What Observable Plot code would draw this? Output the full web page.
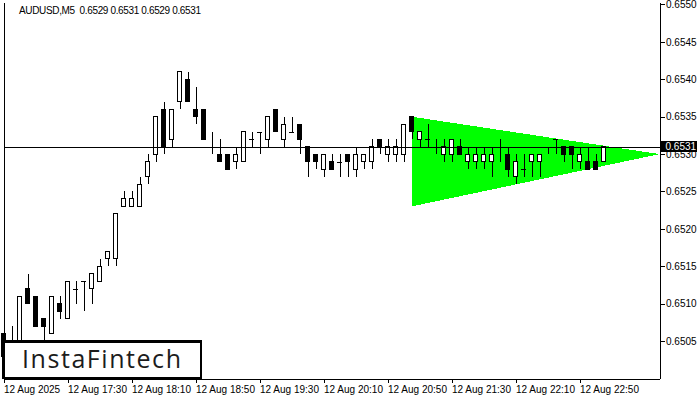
<!DOCTYPE html>
<html>
<head>
<meta charset="utf-8">
<script src="https://cdn.jsdelivr.net/npm/d3@7"></script>
<script src="https://cdn.jsdelivr.net/npm/@observablehq/plot@0.6"></script>
<style>
  html, body { margin: 0; padding: 0; background: #fff; }
  #chart svg { display: block; }
</style>
</head>
<body>
<div id="chart"></div>
<script>
// AUDUSD 5-minute candles, 12 Aug 2025 (one entry per bar, oldest first)
const symbol = "AUDUSD";
const period = "M5";
const open = [
  0.6506, 0.6503, 0.6504, 0.6512, 0.6511, 0.6508, 0.6506, 0.6510, 0.6508, 0.6512,
  0.6513, 0.6512, 0.6513, 0.6516, 0.6516, 0.6523, 0.6523, 0.6523, 0.6527, 0.6530,
  0.6536, 0.6532, 0.6537, 0.6540, 0.6536, 0.6536, 0.6531, 0.6530, 0.6530, 0.6529,
  0.6529, 0.6532, 0.6533, 0.6532, 0.6536, 0.6532, 0.6533, 0.6534, 0.6531, 0.6530,
  0.6528, 0.6529, 0.6529, 0.6530, 0.6528, 0.6529, 0.6529, 0.6532, 0.6530, 0.6530,
  0.6530, 0.6535, 0.6532, 0.6532, 0.6531, 0.6530, 0.6530, 0.6531, 0.6529, 0.6529,
  0.6529, 0.6529, 0.6531, 0.6530, 0.6527, 0.6528, 0.6529, 0.6529, 0.6531, 0.6532,
  0.6531, 0.6531, 0.6529, 0.6529, 0.6529, 0.6529
];
const high = [
  0.6506, 0.6507, 0.6511, 0.6514, 0.6511, 0.6508, 0.6511, 0.6511, 0.6513, 0.6513,
  0.6513, 0.6514, 0.6516, 0.6517, 0.6522, 0.6525, 0.6525, 0.6527, 0.6530, 0.6535,
  0.6537, 0.6536, 0.6541, 0.6541, 0.6539, 0.6536, 0.6533, 0.6532, 0.6530, 0.6531,
  0.6533, 0.6533, 0.6533, 0.6535, 0.6536, 0.6535, 0.6535, 0.6534, 0.6531, 0.6530,
  0.6530, 0.6530, 0.6530, 0.6530, 0.6531, 0.6530, 0.6532, 0.6532, 0.6532, 0.6532,
  0.6534, 0.6535, 0.6533, 0.6534, 0.6532, 0.6532, 0.6532, 0.6532, 0.6531, 0.6531,
  0.6531, 0.6531, 0.6532, 0.6531, 0.6530, 0.6530, 0.6530, 0.6530, 0.6531, 0.6532,
  0.6531, 0.6531, 0.6531, 0.6531, 0.6530, 0.6531
];
const low = [
  0.6502, 0.6502, 0.6503, 0.6510, 0.6507, 0.6504, 0.6506, 0.6508, 0.6508, 0.6510,
  0.6509, 0.6510, 0.6513, 0.6515, 0.6515, 0.6523, 0.6523, 0.6523, 0.6526, 0.6529,
  0.6530, 0.6531, 0.6536, 0.6537, 0.6534, 0.6532, 0.6530, 0.6529, 0.6528, 0.6528,
  0.6529, 0.6531, 0.6530, 0.6531, 0.6533, 0.6531, 0.6533, 0.6530, 0.6527, 0.6528,
  0.6527, 0.6528, 0.6527, 0.6527, 0.6527, 0.6528, 0.6528, 0.6530, 0.6529, 0.6529,
  0.6529, 0.6532, 0.6531, 0.6531, 0.6530, 0.6529, 0.6529, 0.6530, 0.6528, 0.6528,
  0.6528, 0.6527, 0.6529, 0.6527, 0.6526, 0.6527, 0.6527, 0.6527, 0.6530, 0.6530,
  0.6529, 0.6528, 0.6528, 0.6528, 0.6528, 0.6529
];
const close = [
  0.6503, 0.6504, 0.6511, 0.6510, 0.6507, 0.6507, 0.6511, 0.6509, 0.6513, 0.6512,
  0.6513, 0.6514, 0.6515, 0.6517, 0.6522, 0.6524, 0.6524, 0.6526, 0.6529, 0.6535,
  0.6531, 0.6536, 0.6541, 0.6537, 0.6535, 0.6532, 0.6531, 0.6529, 0.6528, 0.6530,
  0.6533, 0.6532, 0.6533, 0.6535, 0.6533, 0.6534, 0.6533, 0.6532, 0.6529, 0.6529,
  0.6530, 0.6528, 0.6529, 0.6529, 0.6530, 0.6530, 0.6531, 0.6531, 0.6531, 0.6531,
  0.6534, 0.6533, 0.6533, 0.6532, 0.6531, 0.6531, 0.6532, 0.6530, 0.6530, 0.6530,
  0.6530, 0.6530, 0.6531, 0.6528, 0.6529, 0.6528, 0.6530, 0.6530, 0.6531, 0.6532,
  0.6530, 0.6530, 0.6530, 0.6528, 0.6528, 0.6531
];

// Time-axis labels, one every 8 bars (40 minutes)
const tickLabels = [
  "12 Aug 2025", "12 Aug 17:30", "12 Aug 18:10", "12 Aug 18:50", "12 Aug 19:30",
  "12 Aug 20:10", "12 Aug 20:50", "12 Aug 21:30", "12 Aug 22:10", "12 Aug 22:50"
];
const barsPerTick = 8;
const priceTicks = [0.6505, 0.6510, 0.6515, 0.6520, 0.6525, 0.6530, 0.6535, 0.6540, 0.6545, 0.6550];

// Bullish symmetrical triangle: bar index, upper and lower bounds
const triangleBar = [51, 82];
const triangleTop = [0.6535, 0.6530];
const triangleBottom = [0.6523, 0.6530];

const priceDomain = [0.6500, 0.65502];
const lastBar = triangleBar[triangleBar.length - 1];

const bars = open.map((o, i) => ({i, o, h: high[i], l: low[i], c: close[i]}));
const upBars = bars.filter(d => d.c > d.o);
const downBars = bars.filter(d => d.c < d.o);
const flatBars = bars.filter(d => d.c === d.o);
const triangle = triangleBar.map((x, k) => ({x, top: triangleTop[k], bottom: triangleBottom[k]}));
const lastClose = close[close.length - 1];
const fmt = v => v.toFixed(4);
const uiFont = "'Liberation Sans', Arial, sans-serif";

const chart = Plot.plot({
  width: 700,
  height: 400,
  marginLeft: 3.5,
  marginRight: 40.5,
  marginTop: 3,
  marginBottom: 21.5,
  style: {fontFamily: uiFont, fontSize: "10px", color: "#000", background: "#fff", shapeRendering: "crispEdges"},
  x: {domain: [0, lastBar]},
  y: {domain: priceDomain},
  marks: [
    Plot.areaY(triangle, {x: "x", y1: "bottom", y2: "top", fill: "#00ff00", fillOpacity: 1}),
    Plot.ruleX(bars, {x: "i", y1: "l", y2: "h", stroke: "#000", strokeWidth: 1}),
    Plot.rect(upBars, {x1: d => d.i - 0.25, x2: d => d.i + 0.25, y1: "o", y2: "c", fill: "#fff", stroke: "#000", strokeWidth: 1}),
    Plot.rect(downBars, {x1: d => d.i - 0.25, x2: d => d.i + 0.25, y1: "o", y2: "c", fill: "#000", stroke: "#000", strokeWidth: 1}),
    Plot.ruleY(flatBars, {y: "o", x1: d => d.i - 0.3125, x2: d => d.i + 0.3125, stroke: "#000", strokeWidth: 1}),
    Plot.ruleY([lastClose], {stroke: "#000", strokeWidth: 1}),
    Plot.ruleX([0, lastBar], {stroke: "#000", strokeWidth: 1}),
    Plot.ruleY([priceDomain[0]], {stroke: "#000", strokeWidth: 1}),
    Plot.axisX({
      ticks: tickLabels.map((_, k) => k * barsPerTick),
      tickFormat: v => tickLabels[v / barsPerTick],
      tickSize: 4, tickPadding: 3, textAnchor: "start", label: null, fontSize: 10
    }),
    Plot.axisY({
      anchor: "right", ticks: priceTicks, tickFormat: fmt,
      tickSize: 4, tickPadding: 2, label: null, fontSize: 10
    })
  ]
});

const svg = d3.select(chart);
const yPos = chart.scale("y").apply(lastClose);

// Current price tag on the price scale
svg.append("rect")
  .attr("x", 660).attr("y", yPos - 6)
  .attr("width", 37).attr("height", 11)
  .attr("fill", "#000");
svg.append("text")
  .attr("x", 665.5).attr("y", yPos + 3.5)
  .attr("text-anchor", "start")
  .attr("fill", "#fff")
  .attr("font-size", 10)
  .attr("font-family", uiFont)
  .text(fmt(lastClose));

// Symbol, timeframe and last bar's OHLC
const n = close.length - 1;
svg.append("text")
  .attr("x", 19).attr("y", 14)
  .attr("text-anchor", "start")
  .attr("fill", "#000")
  .attr("font-size", 10)
  .attr("font-family", uiFont)
  .attr("xml:space", "preserve")
  .attr("textLength", 182)
  .attr("lengthAdjust", "spacing")
  .text(`${symbol},${period}  ${fmt(open[n])} ${fmt(high[n])} ${fmt(low[n])} ${fmt(close[n])}`);

// Watermark
svg.append("rect")
  .attr("x", 3.25).attr("y", 341.25)
  .attr("width", 197.5).attr("height", 36.5)
  .attr("fill", "#fff")
  .attr("stroke", "#000")
  .attr("stroke-width", 2.5);
svg.append("text")
  .attr("x", 22).attr("y", 368)
  .attr("text-anchor", "start")
  .attr("fill", "#1c1c1c")
  .attr("font-size", 25)
  .attr("font-weight", 500)
  .attr("font-family", "'Open Sans', sans-serif")
  .attr("textLength", 159)
  .attr("lengthAdjust", "spacing")
  .text("InstaFintech");

document.getElementById("chart").append(chart);
</script>
</body>
</html>
